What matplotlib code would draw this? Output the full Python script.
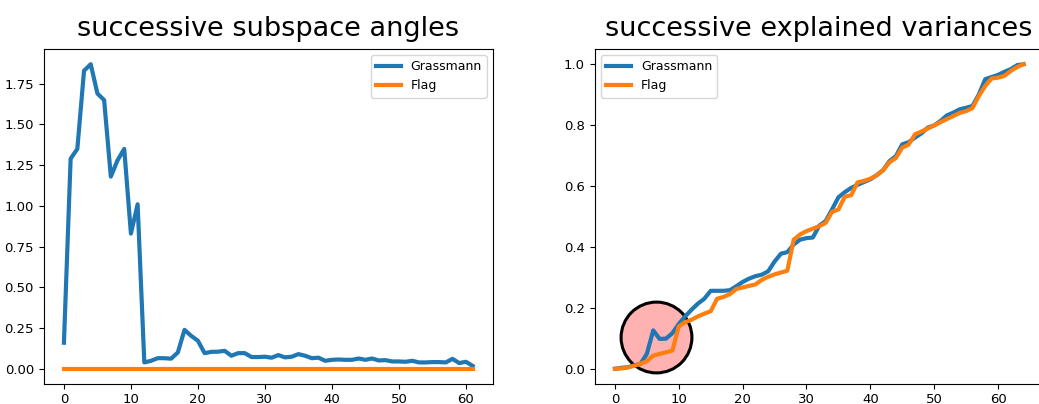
import numpy as np
import matplotlib
matplotlib.use("Agg")
import matplotlib.pyplot as plt

# successive principal angles between consecutive subspaces
angles_grassmann = [
    0.16, 1.29, 1.35, 1.83, 1.87, 1.69, 1.65, 1.18, 1.28, 1.35,
    0.83, 1.01, 0.039, 0.049, 0.065, 0.065, 0.062, 0.10, 0.239, 0.202,
    0.172, 0.096, 0.104, 0.105, 0.110, 0.080, 0.096, 0.096, 0.072, 0.072,
    0.074, 0.068, 0.084, 0.070, 0.074, 0.090, 0.080, 0.065, 0.068, 0.049,
    0.055, 0.057, 0.055, 0.055, 0.063, 0.055, 0.063, 0.051, 0.053, 0.045,
    0.045, 0.043, 0.049, 0.039, 0.039, 0.041, 0.041, 0.039, 0.061, 0.035,
    0.043, 0.018,
]
angles_flag = [0.0] * len(angles_grassmann)

# cumulative explained variance along the nested sequence
var_grassmann = [
    0.0, 0.003, 0.005, 0.011, 0.016, 0.049, 0.126, 0.098, 0.099, 0.117,
    0.147, 0.172, 0.194, 0.214, 0.230, 0.256, 0.256, 0.256, 0.258, 0.271,
    0.285, 0.296, 0.304, 0.309, 0.320, 0.352, 0.378, 0.383, 0.408, 0.424,
    0.429, 0.431, 0.470, 0.485, 0.523, 0.563, 0.580, 0.594, 0.604, 0.613,
    0.622, 0.636, 0.652, 0.682, 0.698, 0.737, 0.744, 0.759, 0.773, 0.792,
    0.799, 0.814, 0.832, 0.841, 0.852, 0.857, 0.863, 0.901, 0.951, 0.958,
    0.965, 0.975, 0.984, 0.997, 1.0,
]
var_flag = [
    0.0, 0.001, 0.004, 0.010, 0.016, 0.025, 0.043, 0.049, 0.054, 0.060,
    0.139, 0.153, 0.161, 0.172, 0.181, 0.189, 0.230, 0.236, 0.245, 0.262,
    0.267, 0.272, 0.277, 0.292, 0.302, 0.310, 0.316, 0.322, 0.424, 0.441,
    0.452, 0.460, 0.468, 0.479, 0.515, 0.523, 0.565, 0.570, 0.612, 0.617,
    0.624, 0.635, 0.652, 0.678, 0.692, 0.726, 0.736, 0.770, 0.779, 0.789,
    0.799, 0.810, 0.820, 0.830, 0.840, 0.846, 0.856, 0.896, 0.929, 0.953,
    0.956, 0.962, 0.978, 0.991, 1.0,
]

# highlighted region on the variance curve
highlight_x = [6.4]
highlight_y = [0.105]

plt.rcParams["xtick.labelsize"] = 9.5
plt.rcParams["ytick.labelsize"] = 9.5
plt.rcParams["xtick.major.pad"] = 2.8
plt.rcParams["xtick.major.size"] = 3.4
plt.rcParams["ytick.major.size"] = 3.4

fig = plt.figure(figsize=(10.39, 4.04), dpi=100)
W, H = 1039.0, 404.0
ax1 = fig.add_axes([43.5 / W, (H - 384.0) / H, 449.5 / W, 335.0 / H])
ax2 = fig.add_axes([594.5 / W, (H - 384.0) / H, 449.5 / W, 335.0 / H])

ax1.plot(np.arange(len(angles_grassmann)), angles_grassmann, lw=3, label="Grassmann")
ax1.plot(np.arange(len(angles_flag)), angles_flag, lw=3, label="Flag")
ax1.set_title("successive subspace angles", fontsize=19.5, pad=9.5)
ax1.legend(loc="upper right", fontsize=9)

ax2.scatter(highlight_x, highlight_y, s=2600, facecolor=(1, 0, 0, 0.3),
            edgecolor="k", linewidths=2.2, zorder=1)
ax2.plot(np.arange(len(var_grassmann)), var_grassmann, lw=3, label="Grassmann", zorder=2)
ax2.plot(np.arange(len(var_flag)), var_flag, lw=3, label="Flag", zorder=2)
ax2.set_title("successive explained variances", fontsize=19.5, pad=9.5)
ax2.legend(loc="upper left", fontsize=9)

fig.savefig("out.png", dpi=100)
